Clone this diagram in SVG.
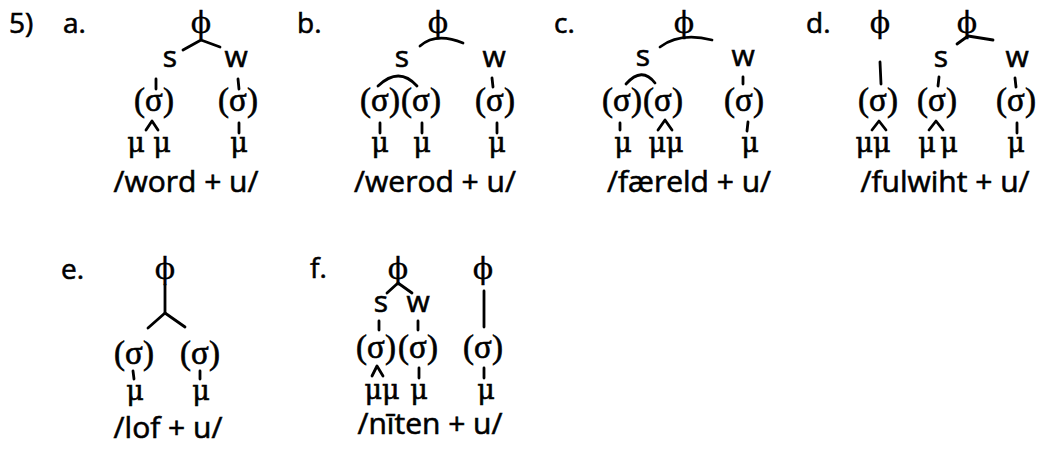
<svg xmlns="http://www.w3.org/2000/svg" width="1050" height="449" viewBox="0 0 1050 449">
<style>
text{fill:#000;stroke:#000;stroke-width:0.6}
.lab{font-family:"Open Sans","Noto Sans",sans-serif;font-size:28px}
.sw{font-family:"Open Sans","Noto Sans",sans-serif;font-size:30px;text-anchor:middle}
.sg{font-family:"Liberation Serif",serif;font-size:33px;text-anchor:middle}
.mu{font-family:"DejaVu Serif",serif;font-size:27px;text-anchor:middle}
.phi{font-family:"DejaVu Serif",serif;font-size:30px;text-anchor:middle;stroke-width:0.3}
.wd{font-family:"Open Sans","Noto Sans",sans-serif;font-size:30px;text-anchor:middle}
.c{fill:none;stroke:#000;stroke-width:2.8;stroke-linecap:round;stroke-linejoin:round}
</style>
<rect width="1050" height="449" fill="#fff"/>
<g id="labels">
<text class="lab" x="9" y="33">5)</text>
<text class="lab" x="63" y="33">a.</text>
<text class="lab" x="297" y="33">b.</text>
<text class="lab" x="554" y="33">c.</text>
<text class="lab" x="806" y="33">d.</text>
<text class="lab" x="61" y="279">e.</text>
<text class="lab" x="310" y="278">f.</text>
</g>
<g id="tree-a">
<g id="a-phi"><text class="phi" x="201" y="33">ϕ</text></g>
<g id="a-s"><text class="sw" x="170" y="67">s</text></g>
<g id="a-w"><text class="sw" x="236" y="67">w</text></g>
<g id="a-sig1"><text class="sg" x="154" y="111">(σ)</text></g>
<g id="a-sig2"><text class="sg" x="238" y="111">(σ)</text></g>
<g id="a-mu1"><text class="mu" x="136" y="152">μ</text></g>
<g id="a-mu2"><text class="mu" x="162" y="152">μ</text></g>
<g id="a-mu3"><text class="mu" x="239" y="152">μ</text></g>
<g id="a-word"><text class="wd" x="186" y="192">/word + u/</text></g>
</g>
<g id="tree-b">
<g id="b-phi"><text class="phi" x="438" y="33">ϕ</text></g>
<g id="b-s"><text class="sw" x="402" y="67">s</text></g>
<g id="b-w"><text class="sw" x="494" y="67">w</text></g>
<g id="b-sig1"><text class="sg" x="380" y="111">(σ)</text></g>
<g id="b-sig2"><text class="sg" x="421" y="111">(σ)</text></g>
<g id="b-sig3"><text class="sg" x="495" y="111">(σ)</text></g>
<g id="b-mu1"><text class="mu" x="380" y="152">μ</text></g>
<g id="b-mu2"><text class="mu" x="422" y="152">μ</text></g>
<g id="b-mu3"><text class="mu" x="497" y="152">μ</text></g>
<g id="b-word"><text class="wd" x="435" y="192">/werod + u/</text></g>
</g>
<g id="tree-c">
<g id="c-phi"><text class="phi" x="684" y="33">ϕ</text></g>
<g id="c-s"><text class="sw" x="643" y="66">s</text></g>
<g id="c-w"><text class="sw" x="743" y="66">w</text></g>
<g id="c-sig1"><text class="sg" x="622" y="111">(σ)</text></g>
<g id="c-sig2"><text class="sg" x="663" y="111">(σ)</text></g>
<g id="c-sig3"><text class="sg" x="744" y="111">(σ)</text></g>
<g id="c-mu1"><text class="mu" x="623" y="152">μ</text></g>
<g id="c-mu2"><text class="mu" x="666" y="152">μμ</text></g>
<g id="c-mu3"><text class="mu" x="750" y="152">μ</text></g>
<g id="c-word"><text class="wd" x="689" y="192">/færeld + u/</text></g>
</g>
<g id="tree-d">
<g id="d-phi1"><text class="phi" x="880" y="33">ϕ</text></g>
<g id="d-phi2"><text class="phi" x="967" y="33">ϕ</text></g>
<g id="d-s"><text class="sw" x="941" y="67">s</text></g>
<g id="d-w"><text class="sw" x="1017" y="67">w</text></g>
<g id="d-sig1"><text class="sg" x="878" y="111">(σ)</text></g>
<g id="d-sig2"><text class="sg" x="937" y="111">(σ)</text></g>
<g id="d-sig3"><text class="sg" x="1016" y="111">(σ)</text></g>
<g id="d-mu1"><text class="mu" x="873" y="152">μμ</text></g>
<g id="d-mu2"><text class="mu" x="927" y="152">μ</text></g>
<g id="d-mu3"><text class="mu" x="949" y="152">μ</text></g>
<g id="d-mu4"><text class="mu" x="1016" y="152">μ</text></g>
<g id="d-word"><text class="wd" x="945" y="192">/fulwiht + u/</text></g>
</g>
<g id="tree-e">
<g id="e-phi"><text class="phi" x="165" y="279">ϕ</text></g>
<g id="e-sig1"><text class="sg" x="134" y="364">(σ)</text></g>
<g id="e-sig2"><text class="sg" x="200" y="364">(σ)</text></g>
<g id="e-mu1"><text class="mu" x="135" y="400">μ</text></g>
<g id="e-mu2"><text class="mu" x="201" y="400">μ</text></g>
<g id="e-word"><text class="wd" x="168" y="438">/lof + u/</text></g>
</g>
<g id="tree-f">
<g id="f-phi1"><text class="phi" x="398" y="279">ϕ</text></g>
<g id="f-phi2"><text class="phi" x="483" y="279">ϕ</text></g>
<g id="f-s"><text class="sw" x="381" y="312">s</text></g>
<g id="f-w"><text class="sw" x="418" y="312">w</text></g>
<g id="f-sig1"><text class="sg" x="376" y="358">(σ)</text></g>
<g id="f-sig2"><text class="sg" x="418" y="358">(σ)</text></g>
<g id="f-sig3"><text class="sg" x="483" y="358">(σ)</text></g>
<g id="f-mu1"><text class="mu" x="382" y="399">μμ</text></g>
<g id="f-mu2"><text class="mu" x="419" y="399">μ</text></g>
<g id="f-mu3"><text class="mu" x="486" y="399">μ</text></g>
<g id="f-word"><text class="wd" x="430" y="434">/nīten + u/</text></g>
</g>
<g id="connectors">
<path class="c" d="M183,50 L201,40 L220,47"/>
<path class="c" d="M156,79 L156,89"/>
<path class="c" d="M238,79 L239,89"/>
<path class="c" d="M146,130 L152,121 L158,130"/>
<path class="c" d="M239,123 L239,133"/>
<path class="c" d="M420,46 Q436,32 463,43"/>
<path class="c" d="M378,86 Q399,66 417,86"/>
<path class="c" d="M492,78 L493,87"/>
<path class="c" d="M380,123 L380,133"/>
<path class="c" d="M422,123 L422,133"/>
<path class="c" d="M497,123 L497,133"/>
<path class="c" d="M660,47 Q680,32 712,40"/>
<path class="c" d="M626,84 Q642,66 655,83"/>
<path class="c" d="M743,77 L743,84"/>
<path class="c" d="M620,123 L620,130"/>
<path class="c" d="M658,130 L665,120 L672,130"/>
<path class="c" d="M748,122 L747,131"/>
<path class="c" d="M880,62 L881,84"/>
<path class="c" d="M957,44 L968,36 L993,40"/>
<path class="c" d="M939,77 L938,86"/>
<path class="c" d="M1015,78 L1016,87"/>
<path class="c" d="M872,130 L879,121 L886,130"/>
<path class="c" d="M929,130 L936,121 L943,130"/>
<path class="c" d="M1017,123 L1017,133"/>
<path class="c" d="M165,285 L165,313"/>
<path class="c" d="M148,328 L165,313 L185,327"/>
<path class="c" d="M133,371 L134,379"/>
<path class="c" d="M200,371 L200,379"/>
<path class="c" d="M387,293 L398,283 L412,293"/>
<path class="c" d="M484,291 L484,327"/>
<path class="c" d="M379,321 L379,330"/>
<path class="c" d="M418,321 L418,330"/>
<path class="c" d="M372,376 L377,366 L383,376"/>
<path class="c" d="M419,368 L419,378"/>
<path class="c" d="M484,368 L484,378"/>
</g>
</svg>
